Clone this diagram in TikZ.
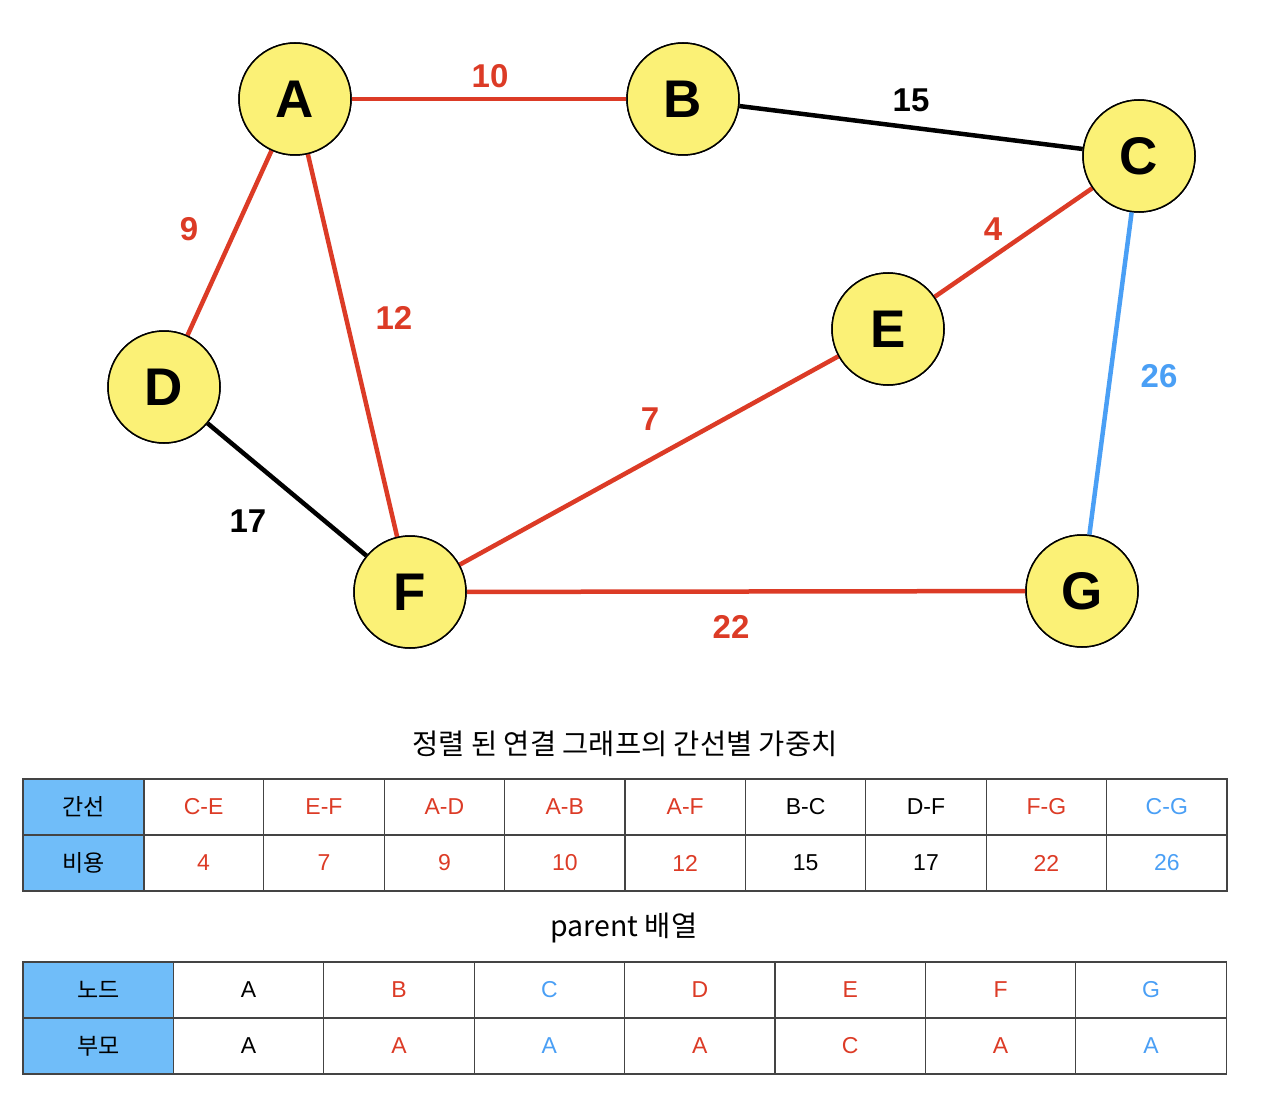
\documentclass[tikz,border=0pt]{standalone}
\usepackage{fontspec}
\setmainfont{Liberation Sans}
\newfontfamily\krfont{Noto Sans CJK KR}
\definecolor{myred}{HTML}{DC3B26}
\definecolor{myblue}{HTML}{4A9FF5}
\definecolor{nodeyellow}{HTML}{FBF176}
\definecolor{headblue}{HTML}{70BDF9}
\definecolor{gridgrey}{HTML}{444444}
\begin{document}
\begin{tikzpicture}[x=1pt,y=-1pt,
  vtx/.style={circle, draw=black, line width=1.5pt, fill=nodeyellow, minimum size=112pt, inner sep=0pt, font=\fontsize{53}{53}\selectfont\bfseries},
  edg/.style={line width=4.5pt},
  wlabel/.style={font=\fontsize{33}{33}\selectfont\bfseries, inner sep=0pt},
  cell/.style={draw=gridgrey, line width=1.2pt, minimum height=56pt, inner sep=0pt, font=\fontsize{23}{23}\selectfont},
  hcell/.style={cell, fill=headblue, font=\krfont\fontsize{23}{23}\selectfont},
  ttl/.style={font=\krfont\fontsize{28.5}{28.5}\selectfont, inner sep=0pt}
]
\useasboundingbox (0,0) rectangle (1266,1118);

% vertices
\node[vtx] (A) at (295,99) {A};
\node[vtx] (B) at (683,99) {B};
\node[vtx] (C) at (1139,156) {C};
\node[vtx] (D) at (164,387) {D};
\node[vtx] (E) at (888,329) {E};
\node[vtx] (F) at (410,592) {F};
\node[vtx] (G) at (1082,591) {G};

% edges
\draw[edg, myred] (A) -- (B);
\draw[edg, black] (B) -- (C);
\draw[edg, myred] (C) -- (E);
\draw[edg, myblue] (C) -- (G);
\draw[edg, myred] (A) -- (D);
\draw[edg, myred] (A) -- (F);
\draw[edg, black] (D) -- (F);
\draw[edg, myred] (F) -- (E);
\draw[edg, myred] (F) -- (G);

% redraw vertices on top of the line ends
\node[vtx] at (A) {A};
\node[vtx] at (B) {B};
\node[vtx] at (C) {C};
\node[vtx] at (D) {D};
\node[vtx] at (E) {E};
\node[vtx] at (F) {F};
\node[vtx] at (G) {G};

% weights
\node[wlabel, myred] (w10) at (490,76) {10};
\node[wlabel, black] (w15) at (911,100) {15};
\node[wlabel, myred] (w4) at (993,229) {4};
\node[wlabel, myblue] (w26) at (1159,376) {26};
\node[wlabel, myred] (w9) at (189,229) {9};
\node[wlabel, myred] (w12) at (394,318) {12};
\node[wlabel, myred] (w7) at (650,419) {7};
\node[wlabel, black] (w17) at (248,521) {17};
\node[wlabel, myred] (w22) at (731,627) {22};

% table 1
\node[ttl] (t1) at (625,744) {정렬 된 연결 그래프의 간선별 가중치};
\node[hcell, minimum width=121pt] (h1a) at (83.5,807) {간선};
\node[hcell, minimum width=121pt] (h1b) at (83.5,863) {비용};
\foreach \i/\e/\w/\c in {1/C-E/4/myred, 2/E-F/7/myred, 3/A-D/9/myred, 4/A-B/10/myred, 5/A-F/12/myred, 6/B-C/15/black, 7/D-F/17/black, 8/F-G/22/myred, 9/C-G/26/myblue}{
  \node[cell, minimum width=120.4pt, text=\c] (ea\i) at ({23+120.4*\i+60.2},807) {\e};
  \node[cell, minimum width=120.4pt, text=\c] (eb\i) at ({23+120.4*\i+60.2},863) {\w};
}

% table 2
\node[ttl] (t2) at (624,928) {parent 배열};
\node[hcell, minimum width=150.4pt] (h2a) at (98.2,990) {노드};
\node[hcell, minimum width=150.4pt] (h2b) at (98.2,1046) {부모};
\foreach \i/\n/\p/\c in {1/A/A/black, 2/B/A/myred, 3/C/A/myblue, 4/D/A/myred, 5/E/C/myred, 6/F/A/myred, 7/G/A/myblue}{
  \node[cell, minimum width=150.4pt, text=\c] (na\i) at ({23+150.4*\i+75.2},990) {\n};
  \node[cell, minimum width=150.4pt, text=\c] (nb\i) at ({23+150.4*\i+75.2},1046) {\p};
}
\end{tikzpicture}
\end{document}
